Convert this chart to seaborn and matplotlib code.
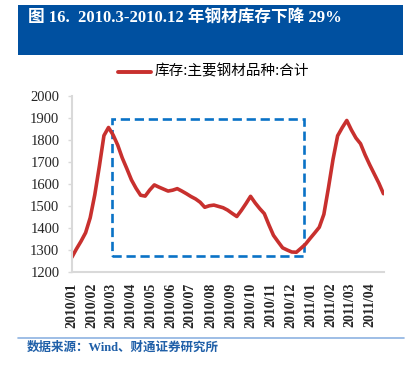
import pandas as pd
import matplotlib.pyplot as plt
import matplotlib.dates as mdates
from matplotlib.patches import Rectangle
import seaborn as sns

# weekly steel inventory (10k tonnes)
weeks = pd.date_range('2010-01-01', periods=69, freq='7D')
stock = [1265, 1303, 1338, 1377, 1445, 1550, 1680, 1820, 1857, 1823,
         1777, 1718, 1669, 1618, 1580, 1548, 1544, 1572, 1595, 1585,
         1576, 1567, 1571, 1578, 1567, 1555, 1542, 1531, 1516, 1493,
         1500, 1503, 1497, 1491, 1480, 1465, 1451, 1479, 1510, 1543,
         1513, 1487, 1464, 1413, 1365, 1336, 1308, 1298, 1289, 1288,
         1306, 1325, 1351, 1376, 1402, 1461, 1582, 1712, 1819, 1856,
         1889, 1846, 1809, 1783, 1732, 1687, 1645, 1603, 1555]
series_name = '库存:主要钢材品种:合计'

# highlighted window 2010.3 - 2010.12
box_start, box_end = pd.Timestamp('2010-03-03'), pd.Timestamp('2010-12-21')
box_low, box_high = 1273, 1894

df = pd.DataFrame({'date': weeks, 'stock': stock})

sns.set_theme(style='white')
serif = ['Liberation Serif', 'Noto Sans CJK SC']
cjk = ['Noto Sans CJK SC', 'DejaVu Sans']

fig = plt.figure(figsize=(4.13, 3.74), dpi=100)
ax = fig.add_axes([0.174, 0.274, 0.756, 0.469])

sns.lineplot(data=df, x='date', y='stock', ax=ax, color='#C8302E', linewidth=2.6)

ax.add_patch(Rectangle((mdates.date2num(box_start), box_low),
                       mdates.date2num(box_end) - mdates.date2num(box_start),
                       box_high - box_low, fill=False, edgecolor='#0A72C6',
                       linewidth=1.9, linestyle=(0, (3.5, 1.8))))

ax.set_ylim(1200, 2000)
ax.set_yticks(range(1200, 2001, 100))
ax.set_xlim(weeks[0], weeks[-1] + pd.Timedelta(days=1))
ax.xaxis.set_major_locator(mdates.MonthLocator())
ax.xaxis.set_major_formatter(mdates.DateFormatter('%Y/%m'))
ax.set_xlabel('')
ax.set_ylabel('')

for lab in ax.get_yticklabels():
    lab.set_fontfamily(serif)
    lab.set_fontsize(10.5)
for lab in ax.get_xticklabels():
    lab.set_fontfamily(serif)
    lab.set_fontsize(10)
    lab.set_fontweight('bold')
    lab.set_rotation(90)

ax.tick_params(axis='y', length=3, color='#D9D9D9', width=1, pad=6, left=True)
ax.tick_params(axis='x', length=0, pad=8)
for side in ['top', 'right']:
    ax.spines[side].set_visible(False)
for side in ['left', 'bottom']:
    ax.spines[side].set_color('#D9D9D9')
    ax.spines[side].set_linewidth(1.5)

# header band
fig.patches.append(Rectangle((18 / 413, 1 - 55 / 374), 385 / 413, 50 / 374,
                             transform=fig.transFigure, facecolor='#0050A0',
                             edgecolor='none'))
fig.text(28 / 413, 1 - 18 / 374, '图 16.  2010.3-2010.12 年钢材库存下降 29%',
         color='white', fontsize=12, fontweight='bold', family=serif,
         ha='left', va='center')

# legend
fig.lines.append(plt.Line2D([118 / 413, 151 / 413], [1 - 71.5 / 374] * 2,
                            transform=fig.transFigure, color='#C8302E', linewidth=2.8))
fig.text(155 / 413, 1 - 71.5 / 374, series_name, fontsize=10.5, family=cjk,
         ha='left', va='center', color='black')

# footer
fig.lines.append(plt.Line2D([18 / 413, 404 / 413], [1 - 337.5 / 374] * 2,
                            transform=fig.transFigure, color='#8DB3E2', linewidth=1.2))
fig.text(27 / 413, 1 - 348 / 374, '数据来源：Wind、财通证券研究所', fontsize=9,
         fontweight='bold', family=serif, color='#1F5FA8', ha='left', va='center')

fig.savefig('out.png', dpi=100)
